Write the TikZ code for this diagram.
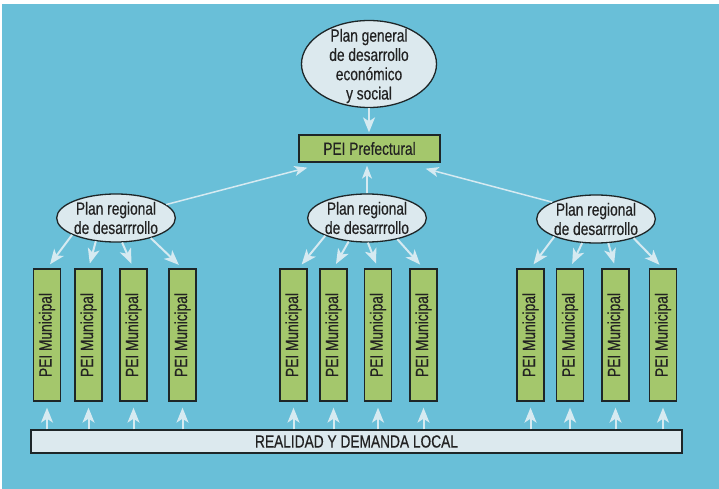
\documentclass[tikz,border=0pt]{standalone}
\usepackage{fontspec}
\usepackage{graphicx}
\setmainfont[FakeStretch=0.78,FakeBold=0.4]{Liberation Sans}
\usetikzlibrary{arrows.meta,calc,shapes.geometric}
\definecolor{bgblue}{HTML}{69BFD8}
\definecolor{paleblue}{HTML}{DCE9EE}
\definecolor{leaf}{HTML}{A4C76C}
\definecolor{edge}{HTML}{1E2628}
\definecolor{arrowc}{HTML}{D6EAF1}
\definecolor{ink}{HTML}{222222}
\tikzset{
  lbl/.style={font=\fontsize{17.6}{19.3}\selectfont, text=ink, align=center},
  bubble/.style={ellipse, draw=edge, line width=1.3pt, fill=paleblue, inner sep=0pt, lbl},
  regional/.style={bubble, minimum width=116pt, minimum height=48pt},
  greenbox/.style={rectangle, draw=edge, line width=1.3pt, fill=leaf, inner sep=0pt, lbl},
  muni/.style={greenbox, minimum width=27pt, minimum height=132pt},
  basebar/.style={rectangle, draw=edge, line width=1.3pt, fill=paleblue, inner sep=0pt, lbl,
    minimum width=651pt, minimum height=23pt},
  arr/.style={draw=arrowc, line width=2pt, -{Stealth[length=15pt,width=12pt,inset=4pt]}},
  longarr/.style={draw=arrowc, line width=1.5pt, -{Stealth[length=13pt,width=10pt,inset=3.5pt]}}
}
\newcommand{\munitext}{\rotatebox{90}{PEI Municipal}}
\begin{document}
\begin{tikzpicture}[x=1pt,y=-1pt]
\useasboundingbox (0,0) rectangle (719,489);
\fill[white] (0,0) rectangle (719,489);
\fill[bgblue] (2,4) rectangle (719,489);

% top level
\node[bubble, minimum width=135pt, minimum height=87pt] (G) at (369,64) {};
\node[lbl] at (369,66) {Plan general\\de desarrollo\\económico\\y social};
\node[greenbox, minimum width=141pt, minimum height=27pt] (P) at (369.5,148.5) {PEI Prefectural};

% regional plans
\node[regional] (A) at (116,218) {Plan regional\\de desarrrollo};
\node[regional] (B) at (367,218) {Plan regional\\de desarrrollo};
\node[regional] (C) at (596,219) {Plan regional\\de desarrrollo};

% municipal plans
\node[muni] (A1) at (47,335) {\munitext};
\node[muni] (A2) at (88.5,335) {\munitext};
\node[muni] (A3) at (133.5,335) {\munitext};
\node[muni] (A4) at (182.5,335) {\munitext};
\node[muni] (B1) at (293.5,335) {\munitext};
\node[muni] (B2) at (333.5,335) {\munitext};
\node[muni] (B3) at (378,335) {\munitext};
\node[muni] (B4) at (423.5,335) {\munitext};
\node[muni] (C1) at (530.5,335) {\munitext};
\node[muni] (C2) at (570,335) {\munitext};
\node[muni] (C3) at (615.5,335) {\munitext};
\node[muni] (C4) at (663,335) {\munitext};

% local reality bar
\node[basebar] (bar) at (356.5,441.5) {REALIDAD Y DEMANDA LOCAL};

% connectors
\draw[arr, shorten >=2pt] (G.south) -- (G.south |- P.north);
\draw[longarr] (A.15) -- ($(P.south west)+(9,5)$);
\draw[longarr, shorten >=3pt] (B.north) -- (B.north |- P.south);
\draw[longarr] (C.159) -- ($(P.south east)+(-15,6)$);

\draw[arr, shorten >=5pt] (A.201) -- (A1.north);
\draw[arr, shorten >=5pt] (A.229) -- (A2.north);
\draw[arr, shorten >=5pt] (A.284) -- (A3.north);
\draw[arr, shorten >=5pt] (A.330) -- (A4.north);
\draw[arr, shorten >=5pt] (B.203) -- ($(B1.north)+(5,0)$);
\draw[arr, shorten >=5pt] (B.232) -- (B2.north);
\draw[arr, shorten >=5pt] (B.272) -- (B3.north);
\draw[arr, shorten >=5pt] (B.325) -- (B4.north);
\draw[arr, shorten >=5pt] (C.203) -- (C1.north);
\draw[arr, shorten >=5pt] (C.240) -- (C2.north);
\draw[arr, shorten >=5pt] (C.297) -- (C3.north);
\draw[arr, shorten >=5pt] (C.333) -- (C4.north);

\foreach \m in {A1,A2,A3,A4,B1,B2,B3,B4,C1,C2,C3,C4}
  \draw[arr, shorten >=6pt] (\m.south |- bar.north) -- (\m.south);
\end{tikzpicture}
\end{document}
